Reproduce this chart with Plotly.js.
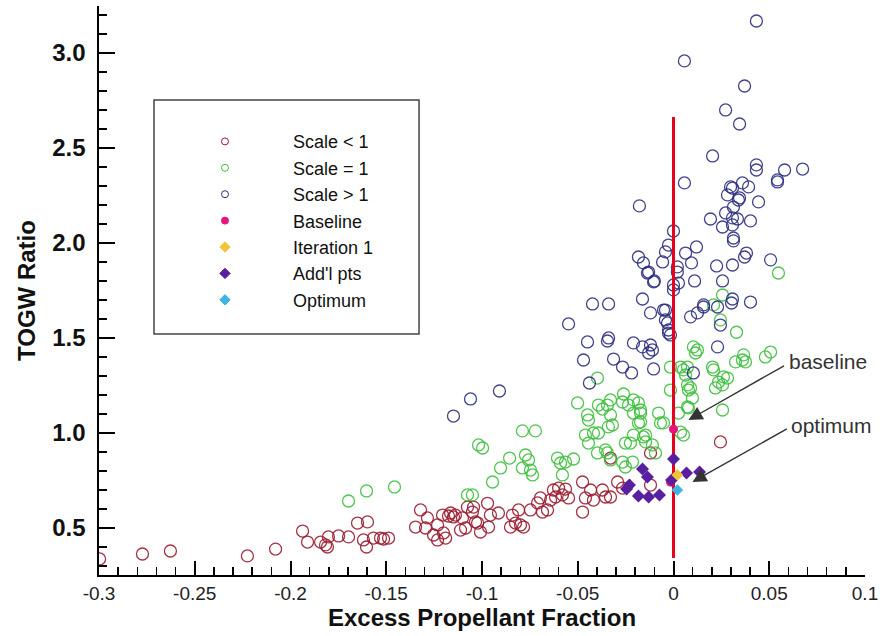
<!DOCTYPE html>
<html><head><meta charset="utf-8">
<script src="https://cdn.plot.ly/plotly-3.0.1.min.js"></script>
<style>body{margin:0;background:#fff}#chart{width:882px;height:636px}</style>
</head><body><div id="chart"></div>
<script>
// ---- Data ----
const scaleLt1X = [-0.2997,-0.2773,-0.2627,-0.2225,-0.2078,-0.1937,-0.1911,-0.1843,-0.1802,-0.1817,-0.1807,-0.1749,-0.1697,-0.165,-0.1598,-0.1619,-0.1603,-0.1567,-0.153,-0.1488,-0.1514,-0.1321,-0.1347,-0.1295,-0.1285,-0.1232,-0.1253,-0.1201,-0.1232,-0.119,-0.1164,-0.1149,-0.1206,-0.1102,-0.1086,-0.1112,-0.105,-0.1034,-0.1076,-0.1044,-0.1139,-0.1175,-0.0971,-0.0956,-0.0914,-0.1023,-0.0966,-0.1008,-0.0841,-0.0825,-0.0809,-0.0783,-0.0747,-0.071,-0.0695,-0.0658,-0.0684,-0.0627,-0.06,-0.0564,-0.0616,-0.058,-0.0548,-0.0642,-0.0475,-0.0433,-0.046,-0.0418,-0.0371,-0.0355,-0.0329,-0.0475,-0.0292,-0.0266,-0.012,-0.0329,-0.012,0.0245,-0.0851,-0.0799];
const scaleLt1Y = [0.337,0.363,0.379,0.353,0.389,0.484,0.426,0.426,0.453,0.411,0.400,0.458,0.453,0.526,0.532,0.437,0.400,0.447,0.447,0.447,0.442,0.595,0.505,0.500,0.553,0.516,0.463,0.474,0.437,0.447,0.579,0.558,0.568,0.553,0.500,0.489,0.584,0.532,0.610,0.610,0.568,0.563,0.630,0.568,0.579,0.526,0.505,0.479,0.568,0.526,0.595,0.505,0.595,0.632,0.658,0.595,0.584,0.700,0.710,0.705,0.663,0.674,0.658,0.647,0.742,0.700,0.658,0.647,0.700,0.663,0.663,0.584,0.742,0.710,0.726,0.868,0.895,0.953,0.505,0.516];

const scaleEq1X = [-0.1697,-0.1603,-0.1457,-0.1076,-0.105,-0.1018,-0.0997,-0.0945,-0.0903,-0.0856,
 -0.0789,-0.0721,-0.0789,-0.0773,-0.0757,-0.0747,-0.0736,-0.0606,-0.059,-0.0564,
 -0.0522,-0.058,-0.046,-0.0444,-0.0392,-0.0397,-0.0345,-0.0355,-0.0329,-0.0251,
 -0.0225,-0.0266,-0.0214,-0.0251,-0.0157,-0.0146,-0.011,-0.0094,-0.0078,-0.0052,
 -0.0449,-0.0444,-0.0392,-0.0345,-0.0329,-0.0319,-0.034,-0.0235,-0.0183,-0.0172,
 -0.0172,-0.0418,-0.0397,-0.0501,-0.0261,-0.0209,-0.0371,-0.0329,-0.0266,-0.0209,
 -0.0172,-0.0183,-0.0209,-0.0146,-0.0068,0.0037,0.0052,0.0073,0.0063,0.0115,
 0.0125,0.0073,0.0078,0.0089,0.0099,0.0073,0.0078,0.0052,0.0037,0.0026,
 -0.0016,-0.0016,0.0204,0.0209,0.0219,0.0235,0.0261,0.0256,0.0282,0.0256,
 0.0324,0.036,0.0366,0.0376,0.048,0.0507,0.0329,0.0548,0.0256,0.0209,
 0.0245,0.0104];
const scaleEq1Y = [0.642,0.695,0.716,0.674,0.674,0.937,0.921,0.742,0.816,0.868,
 1.011,1.011,0.816,0.884,0.858,0.805,0.779,0.868,0.842,0.847,
 0.863,0.779,0.989,0.947,1.0,0.895,0.895,0.911,0.858,0.947,
 0.947,0.847,0.847,0.821,0.979,0.953,0.937,0.895,1.105,1.053,
 1.095,1.068,1.147,1.147,1.095,1.042,1.032,1.147,1.158,1.105,
 1.058,1.0,1.289,1.158,1.205,1.174,1.126,1.174,1.163,1.105,
 1.121,1.053,0.989,0.989,1.053,1.347,1.332,1.347,1.305,1.421,
 1.437,1.253,1.226,1.237,1.184,1.137,1.132,0.989,1.005,1.105,
 1.226,1.347,1.347,1.332,1.237,1.268,1.295,1.253,1.289,1.121,
 1.374,1.384,1.411,1.374,1.4,1.426,1.53,1.842,1.726,1.674,
 1.595,1.453];

const scaleGt1X = [0.0433,0.0057,0.0371,0.0272,0.0345,0.0204,0.0433,0.0433,0.058,0.0674,
 0.0543,0.0543,0.0057,0.0298,0.0308,0.036,0.0392,0.0282,0.0339,0.0345,
 0.0444,0.0313,-0.0178,0.0272,0.0193,0.0308,0.0334,0.0256,0.0308,0.0402,
 0.0313,0.0313,0.0,-0.0026,-0.0042,0.0063,0.012,-0.0183,-0.0157,-0.0057,
 0.0094,-0.013,-0.0136,-0.01,0.002,0.002,0.0026,0.0,0.0,0.011,
 0.0225,0.0308,0.0371,0.0381,0.0507,0.0256,-0.0162,-0.012,-0.0052,-0.0423,
 -0.0339,0.0308,0.0303,0.0402,0.0157,0.0125,0.0089,-0.0909,-0.0548,-0.0449,
 -0.047,-0.0439,-0.0345,-0.0339,-0.0313,-0.0266,-0.0219,-0.0209,-0.0162,-0.012,
 -0.011,-0.013,-0.0104,-0.0031,-0.0026,-0.0104,-0.1149,-0.106,-0.0042,-0.0042,
 -0.0026,-0.0016,0.023,0.0104,0.0245,0.023,0.0157];
const scaleGt1Y = [3.168,2.958,2.826,2.70,2.626,2.458,2.411,2.384,2.384,2.389,
 2.321,2.332,2.316,2.295,2.289,2.316,2.295,2.253,2.226,2.237,
 2.216,2.189,2.195,2.158,2.126,2.132,2.126,2.084,2.095,2.116,
 2.026,2.011,2.063,1.989,1.953,1.947,1.979,1.926,1.895,1.90,
 1.895,1.847,1.842,1.80,1.874,1.847,1.789,1.779,1.753,1.80,
 1.879,1.884,1.926,1.947,1.911,1.80,1.705,1.632,1.647,1.679,
 1.679,1.705,1.684,1.689,1.674,1.632,1.611,1.221,1.574,1.479,
 1.384,1.263,1.484,1.50,1.389,1.347,1.316,1.474,1.453,1.463,
 1.437,1.421,1.337,1.579,1.526,1.795,1.089,1.179,1.647,1.595,
 1.542,1.516,1.453,1.316,1.568,1.663,1.663];

const baselineX = [0.0, -0.0235, -0.0016];
const baselineY = [1.02, 0.721, 0.742];
const iteration1X = [0.002];
const iteration1Y = [0.779];
const addlX = [-0.0162,-0.0136,-0.023,-0.0245,-0.0183,-0.013,-0.0073,0.0,-0.001,0.0068,0.0136];
const addlY = [0.811,0.768,0.726,0.705,0.668,0.663,0.674,0.863,0.753,0.789,0.795];
const optimumX = [0.002];
const optimumY = [0.70];

const refLineX = [0, 0];
const refLineY = [0.342, 2.663];

const xTickVals = [-0.3,-0.25,-0.2,-0.15,-0.1,-0.05,0,0.05,0.1];
const xTickText = ['-0.3','-0.25','-0.2','-0.15','-0.1','-0.05','0','0.05','0.1'];
const yTickVals = [0.5,1.0,1.5,2.0,2.5,3.0];
const yTickText = ['0.5','1.0','1.5','2.0','2.5','3.0'];

const legendNames = ['Scale < 1','Scale = 1','Scale > 1','Baseline','Iteration 1',"Add'l pts",'Optimum'];

// ---- Styles ----
const FONT = '"Liberation Sans", Arial, Helvetica, sans-serif';
const C_LT = '#9a1c30', C_EQ = '#3cbf3c', C_GT = '#2c2f80';
const C_BASE = '#e8137e', C_IT = '#f0c53a', C_ADD = '#5a1ea0', C_OPT = '#3db4e2';
const NBSP = '\u00a0';

function circles(x, y, color) {
  return {type:'scatter', mode:'markers', x:x, y:y, showlegend:false, hoverinfo:'skip',
    marker:{symbol:'circle-open', size:12, color:color, opacity:0.9, line:{width:1.3, color:color}}};
}
function filled(x, y, color, symbol, size) {
  return {type:'scatter', mode:'markers', x:x, y:y, showlegend:false, hoverinfo:'skip',
    marker:{symbol:symbol, size:size, color:color, line:{width:0}}};
}
function legendOnly(name, symbol, color, size) {
  return {type:'scatter', mode:'markers', x:[null], y:[null], name:name, hoverinfo:'skip',
    marker:{symbol:symbol, size:size, color:color, line:{width:1, color:color}}};
}

const traces = [
  circles(scaleLt1X, scaleLt1Y, C_LT),
  circles(scaleEq1X, scaleEq1Y, C_EQ),
  circles(scaleGt1X, scaleGt1Y, C_GT),
  {type:'scatter', mode:'lines', x:refLineX, y:refLineY, showlegend:false, hoverinfo:'skip',
   line:{color:'#e8001c', width:3}},
  filled(baselineX, baselineY, C_BASE, 'circle', 9),
  filled(addlX, addlY, C_ADD, 'diamond', 10),
  filled(iteration1X, iteration1Y, C_IT, 'diamond', 9),
  filled(optimumX, optimumY, C_OPT, 'diamond', 9),
  legendOnly(legendNames[0], 'circle-open', C_LT, 7),
  legendOnly(legendNames[1], 'circle-open', C_EQ, 7),
  legendOnly(legendNames[2], 'circle-open', C_GT, 7),
  legendOnly(legendNames[3], 'circle', C_BASE, 7),
  legendOnly(legendNames[4], 'diamond', C_IT, 8),
  legendOnly(legendNames[5], 'diamond', C_ADD, 8),
  legendOnly(legendNames[6], 'diamond', C_OPT, 8)
];

const layout = {
  width: 882, height: 636,
  margin: {l:99, r:17, t:6, b:61},
  paper_bgcolor:'#fff', plot_bgcolor:'#fff',
  font: {family: FONT, color:'#111'},
  showlegend: true,
  legend: {x:0.0757, xanchor:'left', y:0.794, yanchor:'top', bgcolor:'rgba(0,0,0,0)',
    borderwidth:0, itemwidth:126, tracegroupgap:0, font:{family:FONT, size:18, color:'#111'}},
  xaxis: {range:[-0.3, 0.1], tickmode:'array', tickvals:xTickVals, ticktext:xTickText,
    ticks:'inside', ticklen:14, tickwidth:2, tickcolor:'#000', layer:'above traces',
    showline:true, linecolor:'#000', linewidth:2, showgrid:false, zeroline:false,
    automargin:false,
    tickfont:{family:FONT, size:19, color:'#222'},
    minor:{ticks:'inside', ticklen:8, tickwidth:1.5, tickcolor:'#000', tick0:0, dtick:0.01, showgrid:false},
    title:{text:'Excess Propellant Fraction', font:{family:FONT, size:24, color:'#111', weight:'bold'}, standoff:6}},
  yaxis: {range:[0.2526, 3.247], tickmode:'array', tickvals:yTickVals, ticktext:yTickText.map(function(t){return t + NBSP;}),
    ticks:'inside', ticklen:16, tickwidth:2, tickcolor:'#000', layer:'above traces',
    showline:true, linecolor:'#000', linewidth:2, showgrid:false, zeroline:false,
    automargin:false,
    tickfont:{family:FONT, size:24, color:'#111', weight:'bold'},
    minor:{ticks:'inside', ticklen:8, tickwidth:1.5, tickcolor:'#000', tick0:0, dtick:0.1, showgrid:false},
    title:{text:'TOGW Ratio', font:{family:FONT, size:24, color:'#111', weight:'bold'}, standoff:10}},
  shapes: [
    {type:'rect', xref:'paper', yref:'paper', x0:0.0718, x1:0.4178, y0:0.4236, y1:0.8348,
     line:{color:'#444', width:1.5}, fillcolor:'rgba(0,0,0,0)', layer:'above'}
  ],
  annotations: [
    {xref:'x', yref:'y', axref:'x', ayref:'y', x:0.0078, y:1.068, ax:0.0585, ay:1.358,
     text:'', showarrow:true, arrowhead:2, arrowsize:2, arrowwidth:1.4, arrowcolor:'#333'},
    {xref:'x', yref:'y', axref:'x', ayref:'y', x:0.0099, y:0.742, ax:0.060, ay:1.026,
     text:'', showarrow:true, arrowhead:2, arrowsize:2, arrowwidth:1.4, arrowcolor:'#333'},
    {xref:'x', yref:'y', x:0.0805, y:1.374, text:'baseline', showarrow:false,
     font:{family:FONT, size:21, color:'#333'}},
    {xref:'x', yref:'y', x:0.0826, y:1.037, text:'optimum', showarrow:false,
     font:{family:FONT, size:21, color:'#333'}}
  ]
};

const gd = document.getElementById('chart');
Plotly.newPlot(gd, traces, layout, {displayModeBar:false, staticPlot:true}).then(function(){
  // redraw the axes once more so the tick marks are certainly rendered
  return Plotly.relayout(gd, {'xaxis.ticks':'inside', 'yaxis.ticks':'inside'});
});
</script>
</body></html>
